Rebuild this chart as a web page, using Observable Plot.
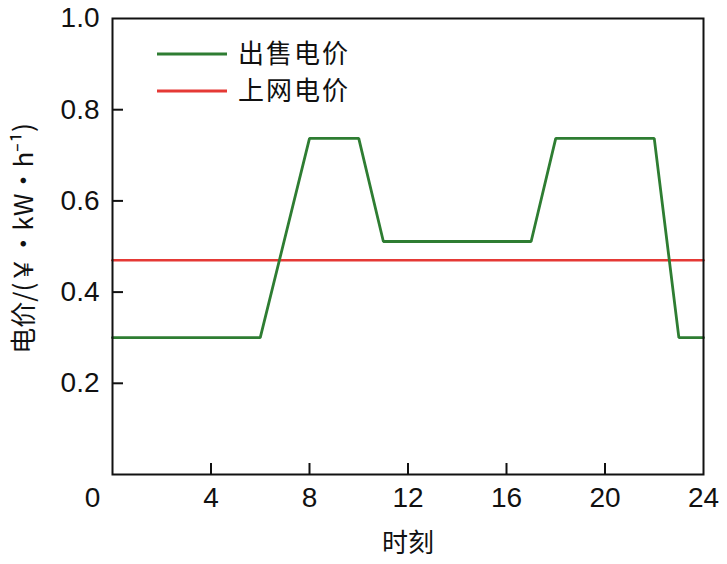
<!DOCTYPE html>
<html>
<head>
<meta charset="utf-8">
<script src="https://cdn.jsdelivr.net/npm/d3@7"></script>
<script src="https://cdn.jsdelivr.net/npm/@observablehq/plot@0.6"></script>
<style>
  html, body { margin: 0; padding: 0; background: #fff; }
  #chart { width: 727px; height: 564px; }
</style>
</head>
<body>
<div id="chart"></div>
<script>
// Data
const hours = [0, 6, 8, 10, 11, 17, 18, 22, 23, 24];
const sellPrice = [0.30, 0.30, 0.737, 0.737, 0.511, 0.511, 0.737, 0.737, 0.30, 0.30];
const gridHours = [0, 24];
const gridPrice = [0.47, 0.47];
const xTicks = [4, 8, 12, 16, 20, 24];
const xCornerTick = [0];
const yTicks = [0.2, 0.4, 0.6, 0.8, 1.0];
const seriesNames = ["出售电价", "上网电价"];
const seriesColors = ["#2e7d32", "#e53935"];
const xTitle = "时刻";
const yTitle = "电价/(￥·kW·h⁻¹)";

const sellData = hours.map((h, i) => ({hour: h, price: sellPrice[i]}));
const gridData = gridHours.map((h, i) => ({hour: h, price: gridPrice[i]}));

const W = 727, H = 564;
const mL = 112, mR = 24, mT = 18, mB = 90;
const innerW = W - mL - mR, innerH = H - mT - mB;
const tickLen = 11;
const numFont = "'Liberation Sans', Arial, sans-serif";
const cjkFont = "'Noto Sans CJK SC', sans-serif";

const plot = Plot.plot({
  width: W,
  height: H,
  marginLeft: mL,
  marginRight: mR,
  marginTop: mT,
  marginBottom: mB,
  style: {fontFamily: numFont, fontSize: "28px", color: "#111", background: "#fff"},
  x: {domain: [0, 24]},
  y: {domain: [0, 1.0]},
  marks: [
    Plot.line(gridData, {x: "hour", y: "price", stroke: seriesColors[1], strokeWidth: 2.6}),
    Plot.line(sellData, {x: "hour", y: "price", stroke: seriesColors[0], strokeWidth: 2.8, strokeLinejoin: "miter"}),
    Plot.tickX(xTicks.slice(0, -1), {x: d => d, stroke: "#111", strokeWidth: 2, insetTop: innerH - tickLen}),
    Plot.tickY(yTicks.slice(0, -1), {y: d => d, stroke: "#111", strokeWidth: 2, insetRight: innerW - tickLen}),
    Plot.frame({stroke: "#111", strokeWidth: 2}),
    Plot.axisX(xTicks, {tickSize: 0, tickPadding: 13, fontSize: 28, fill: "#111", label: null}),
    Plot.text(xCornerTick, {x: d => d, text: d => String(d), frameAnchor: "bottom", dy: 13, dx: -20, lineAnchor: "top", fontSize: 28, fill: "#111"}),
    Plot.axisY(yTicks, {tickSize: 0, tickPadding: 13, tickFormat: d3.format(".1f"), fontSize: 28, fill: "#111", label: null}),
    Plot.text([xTitle], {text: d => d, frameAnchor: "bottom", dy: 69, lineAnchor: "middle", fontSize: 26, fontFamily: cjkFont, fill: "#111"}),
    Plot.text([yTitle], {text: d => d, frameAnchor: "left", textAnchor: "middle", dx: -88, dy: -8, rotate: -90, lineAnchor: "middle", fontSize: 26, fontFamily: cjkFont, fill: "#111"})
  ]
});

// Legend (inside plot, top-left)
const svg = d3.select(plot);
const lg = svg.append("g").attr("class", "legend").attr("text-anchor", "start");
const legY = [54, 91];
seriesNames.forEach((name, i) => {
  lg.append("line")
    .attr("x1", 157).attr("x2", 227)
    .attr("y1", legY[i]).attr("y2", legY[i])
    .attr("stroke", seriesColors[i]).attr("stroke-width", 3);
  lg.append("text")
    .attr("x", 238).attr("y", legY[i])
    .attr("dy", "0.36em")
    .attr("text-anchor", "start")
    .attr("font-family", cjkFont)
    .attr("font-size", 26)
    .attr("fill", "#111")
    .attr("letter-spacing", 2)
    .text(name);
});

document.getElementById("chart").appendChild(plot);
</script>
</body>
</html>
